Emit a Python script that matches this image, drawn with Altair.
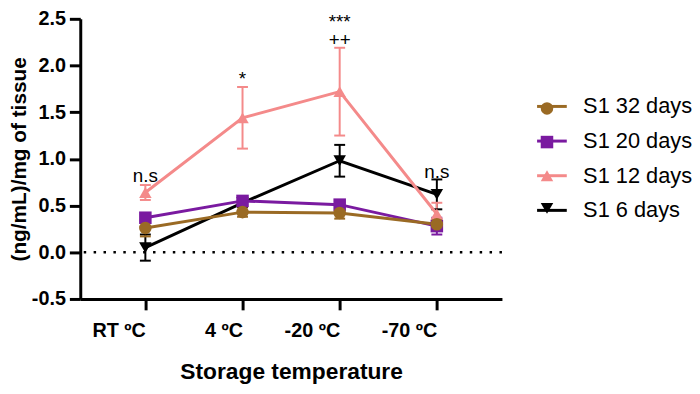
import altair as alt
import pandas as pd

FONT = "Liberation Sans"

categories = ["RT ºC", "4 ºC", "-20 ºC", "-70 ºC"]
series_names = ["S1 32 days", "S1 20 days", "S1 12 days", "S1 6 days"]
series_keys = ["k32", "k20", "k12", "k6"]
colors = ["#9A6A24", "#7A1AA0", "#F48A8A", "#000000"]
shapes = ["circle", "square", "triangle-up", "triangle-down"]

means_32 = [0.26, 0.43, 0.42, 0.30]
err_32 = [0.09, 0.05, 0.06, 0.05]
means_20 = [0.37, 0.55, 0.51, 0.28]
err_20 = [0.03, 0.03, 0.03, 0.09]
means_12 = [0.64, 1.44, 1.72, 0.41]
err_12 = [0.08, 0.33, 0.47, 0.12]
means_6 = [0.05, 0.53, 0.98, 0.62]
err_6 = [0.14, 0.04, 0.17, 0.16]

annot_cats = ["RT ºC", "4 ºC", "-20 ºC", "-70 ºC"]
annot_text = ["n.s", "*", "***\n++", "n.s"]
annot_y = [0.82, 1.86, 2.46, 0.86]

all_means = [means_32, means_20, means_12, means_6]
all_errs = [err_32, err_20, err_12, err_6]

rows = []
# draw order: black, pink, purple, brown (brown on top)
for i in [3, 2, 1, 0]:
    for j, (c, m, e) in enumerate(zip(categories, all_means[i], all_errs[i])):
        rows.append({"series": series_names[i], "key": series_keys[i], "cat": c, "idx": j,
                     "mean": m, "lo": m - e, "hi": m + e})
df = pd.DataFrame(rows)
ann = pd.DataFrame({"cat": annot_cats, "txt": annot_text, "y": annot_y})

W, H = 426, 283

xenc = alt.X("cat:N", sort=categories,
             scale=alt.Scale(type="point", domain=categories, padding=0.67),
             axis=alt.Axis(title="Storage temperature", labelAngle=0, labelPadding=21,
                           titlePadding=20))
yscale = alt.Scale(domain=[-0.5, 2.5], nice=False, zero=False)
yaxis = alt.Axis(title="(ng/mL)/mg of tissue", values=[-0.5, 0, 0.5, 1, 1.5, 2, 2.5],
                 labelExpr="datum.value < 0 ? '-' + format(-datum.value, '.1f') : format(datum.value, '.1f')",
                 labelPadding=4, titlePadding=2, titleFontSize=21)

stroke_scale = alt.Scale(domain=series_names, range=colors)
fill_scale = alt.Scale(domain=series_keys, range=colors)
shape_scale = alt.Scale(domain=series_keys, range=shapes)

leg_a = dict(orient="none", legendX=460, legendY=72, title=None,
             symbolType="stroke", symbolSize=900,
             symbolStrokeWidth=3, labelFontSize=22,
             labelFont=FONT, labelColor="black",
             labelOffset=15, rowPadding=7, padding=0)
leg_b = dict(orient="none", legendX=465, legendY=84, title=None,
             symbolSize=160, symbolStrokeWidth=0, symbolOpacity=1, labelExpr="''",
             labelFontSize=1, labelOffset=0, rowPadding=21, padding=0)

base = alt.Chart(df)

zero = alt.Chart(pd.DataFrame({"z": [0]})).mark_rule(
    color="black", strokeWidth=2.5, strokeDash=[2.5, 7.5]).encode(y=alt.Y("z:Q", scale=yscale))

lines = base.mark_line(strokeWidth=3).encode(
    x=xenc,
    y=alt.Y("mean:Q", scale=yscale, axis=yaxis),
    stroke=alt.Stroke("series:N", scale=stroke_scale, legend=alt.Legend(**leg_a)),
    order=alt.Order("idx:Q"),
)

rules = base.mark_rule(strokeWidth=2, opacity=1).encode(
    x=alt.X("cat:N", sort=categories),
    y=alt.Y("lo:Q", scale=yscale),
    y2="hi:Q",
    stroke=alt.Stroke("series:N", scale=stroke_scale, legend=alt.Legend(**leg_a)),
)
caps_hi = base.mark_tick(size=11, thickness=2, opacity=1).encode(
    x=alt.X("cat:N", sort=categories),
    y=alt.Y("hi:Q", scale=yscale),
    fill=alt.Fill("key:N", scale=fill_scale, legend=alt.Legend(**leg_b)),
)
caps_lo = base.mark_tick(size=11, thickness=2, opacity=1).encode(
    x=alt.X("cat:N", sort=categories),
    y=alt.Y("lo:Q", scale=yscale),
    fill=alt.Fill("key:N", scale=fill_scale, legend=alt.Legend(**leg_b)),
)

points = base.mark_point(filled=True, size=160, opacity=1).encode(
    x=alt.X("cat:N", sort=categories),
    y=alt.Y("mean:Q", scale=yscale),
    fill=alt.Fill("key:N", scale=fill_scale, legend=alt.Legend(**leg_b)),
    shape=alt.Shape("key:N", scale=shape_scale, legend=alt.Legend(**leg_b)),
)

texts = alt.Chart(ann).mark_text(font=FONT, fontSize=19, color="black", baseline="middle",
                                 lineBreak="\n", lineHeight=18).encode(
    x=alt.X("cat:N", sort=categories),
    y=alt.Y("y:Q", scale=yscale),
    text="txt:N",
)

chart = alt.layer(zero, rules, caps_hi, caps_lo, lines, points, texts).properties(
    width=W, height=H,
    autosize=alt.AutoSizeParams(type="none"),
    padding={"left": 73, "top": 9, "right": 192, "bottom": 86},
).configure_view(stroke=None).configure_axis(
    domainColor="black", domainWidth=3, tickColor="black", tickWidth=3, tickSize=11,
    labelFont=FONT, labelFontWeight="bold", labelFontSize=20, labelColor="black",
    titleFont=FONT, titleFontWeight="bold", titleFontSize=23, titleColor="black", grid=False,
)

chart.save("out.html", embed_options={"renderer": "svg", "actions": False})
